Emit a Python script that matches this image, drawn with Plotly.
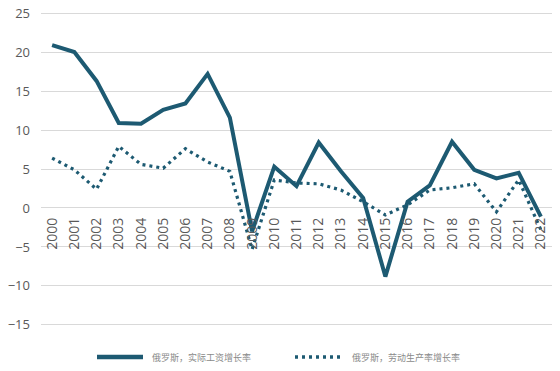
import plotly.graph_objects as go

years = [str(y) for y in range(2000, 2023)]
real_wage_growth = [20.9, 20.0, 16.3, 10.9, 10.8, 12.6, 13.4, 17.2, 11.6, -3.0,
                    5.3, 2.8, 8.4, 4.7, 1.3, -8.8, 0.8, 2.9, 8.5, 4.9, 3.8, 4.5, -1.1]
productivity_growth = [6.4, 4.9, 2.4, 7.9, 5.6, 5.1, 7.6, 5.9, 4.7, -5.3,
                       3.6, 3.2, 3.1, 2.3, 0.8, -0.9, 0.4, 2.3, 2.6, 3.1, -0.5, 3.6, -2.8]
y_ticks = [-15, -10, -5, 0, 5, 10, 15, 20, 25]

name_wage = "俄罗斯，实际工资增长率"
name_prod = "俄罗斯，劳动生产率增长率"
color = "#1d5a72"
dot_dash = "3px,4px"

# the page body has an 8px default margin; figure sized to fit the 560x371 window
OFF = 8
Y_MIN, Y_MAX = -15.4, 25.4
PX_PER_UNIT = 7.8
W, H = 544, 355
L = 41 - OFF
PR = 552 - OFF
T = round(13 - OFF - (Y_MAX - 25) * PX_PER_UNIT)
PB = round(325 - OFF + (-15 - Y_MIN) * PX_PER_UNIT)
R, B = W - PR, H - PB
pw, ph = PR - L, PB - T


def px_x(p):
    return (p - OFF - L) / pw


def px_y(p):
    return (PB - (p - OFF)) / ph


# x-axis labels sit just under the zero line
zero_pos = (0 - Y_MIN) / (Y_MAX - Y_MIN)

fig = go.Figure()
fig.add_trace(go.Scatter(x=years, y=real_wage_growth, mode="lines", name=name_wage,
                         line=dict(color=color, width=4), showlegend=False))
fig.add_trace(go.Scatter(x=years, y=productivity_growth, mode="lines", name=name_prod,
                         line=dict(color=color, width=3.2, dash=dot_dash), showlegend=False))

# legend drawn manually (long samples as in the reference)
legend_items = [
    (97, 143, 150, name_wage, dict(color=color, width=4.5)),
    (295, 340, 350, name_prod, dict(color=color, width=3.5, dash=dot_dash)),
]
ly = 357
for x0, x1, tx, txt, ln in legend_items:
    fig.add_shape(type="line", xref="paper", yref="paper",
                  x0=px_x(x0), x1=px_x(x1), y0=px_y(ly), y1=px_y(ly), line=ln)
    fig.add_annotation(xref="paper", yref="paper", x=px_x(tx), y=px_y(ly),
                       xanchor="left", yanchor="middle", text=txt, showarrow=False,
                       font=dict(family="Noto Sans CJK SC", size=9, color="#8a8a8a"))

fig.update_layout(
    width=W, height=H,
    margin=dict(l=L, r=R, t=T, b=B, autoexpand=False),
    plot_bgcolor="white", paper_bgcolor="white",
    showlegend=False,
    xaxis=dict(type="category", anchor="free", position=zero_pos, tickangle=-90,
               showgrid=False, showline=False, ticks="", zeroline=False, automargin=False,
               tickfont=dict(family="Open Sans", size=14, color="#595959"),
               ticklabelstandoff=6,
               range=[-0.5, len(years) - 0.5]),
    yaxis=dict(range=[Y_MIN, Y_MAX], tickvals=y_ticks, showgrid=True, gridcolor="#d9d9d9",
               gridwidth=1, zeroline=False, showline=False, ticks="", automargin=False,
               ticklabeloverflow="allow",
               tickfont=dict(family="Open Sans", size=13, color="#595959"),
               ticklabelstandoff=10),
)

fig.write_html("out.html")
